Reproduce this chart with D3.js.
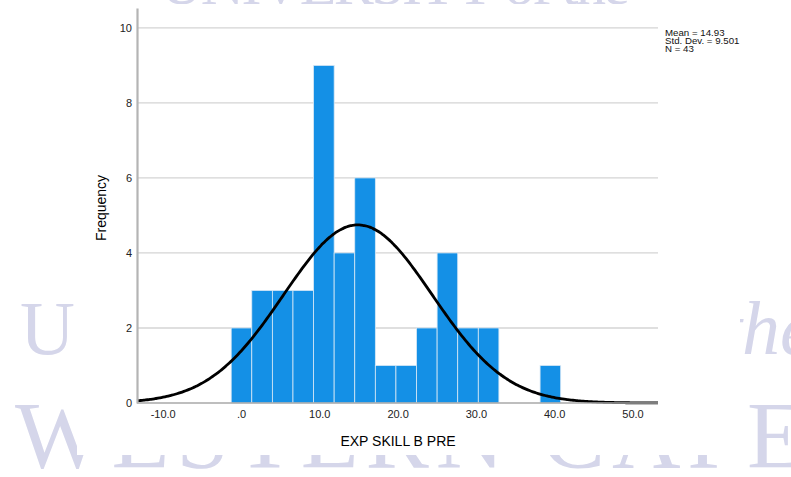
<!DOCTYPE html>
<html>
<head>
<meta charset="utf-8">
<script src="https://cdn.jsdelivr.net/npm/d3@7"></script>
<style>
  html, body { margin: 0; padding: 0; background: #ffffff; }
  svg { display: block; }
</style>
</head>
<body>
<svg id="chart" width="791" height="477"></svg>
<script>
// Histogram bins (lower/upper edges) and frequencies
const binEdges = [-1.25, 1.38, 4.01, 6.64, 9.27, 11.90, 14.53, 17.16, 19.79,
                  22.42, 25.05, 27.68, 30.31, 32.94, 35.57, 38.20, 40.83];
const binCounts = [2, 3, 3, 3, 9, 4, 6, 1, 1, 2, 4, 2, 2, 0, 0, 1];

// Axis ticks
const xTickValues = [-10, 0, 10, 20, 30, 40, 50];
const xTickLabels = ["-10.0", ".0", "10.0", "20.0", "30.0", "40.0", "50.0"];
const yTickValues = [0, 2, 4, 6, 8, 10];

// Summary statistics shown in the legend
const statMean = 14.93;
const statSD = 9.501;
const statN = 43;
const statLines = ["Mean = 14.93", "Std. Dev. = 9.501", "N = 43"];

const svg = d3.select("#chart");
const font = "'Liberation Sans', Arial, Helvetica, sans-serif";
const serif = "'Liberation Serif', 'DejaVu Serif', 'Times New Roman', serif";
const wmColor = "#d5d6ea";

// chart panel bounds on the page
const panel = { x: 77, y: 4, w: 663, h: 451 };

// ---- page background watermark, kept outside the chart panel ----
const defs = svg.append("defs");
defs.append("clipPath").attr("id", "outsidePanel")
  .append("path")
  .attr("clip-rule", "evenodd")
  .attr("d", `M0,0H791V477H0Z M${panel.x},${panel.y}V${panel.y + panel.h}H${panel.x + panel.w}V${panel.y}Z`);

const wm = svg.append("g")
  .attr("clip-path", "url(#outsidePanel)")
  .attr("fill", wmColor).attr("font-family", serif);
wm.append("text")
  .attr("x", 160).attr("y", 4)
  .attr("font-size", 60)
  .attr("textLength", 470).attr("lengthAdjust", "spacing")
  .text("UNIVERSITY of the");
wm.append("text")
  .attr("x", 20).attr("y", 354)
  .attr("font-size", 76)
  .text("U");
wm.append("text")
  .attr("x", 721).attr("y", 354)
  .attr("font-size", 76).attr("font-style", "italic")
  .text("the");
wm.append("text")
  .attr("x", 15).attr("y", 468)
  .attr("font-size", 95)
  .attr("textLength", 790).attr("lengthAdjust", "spacing")
  .text("WESTERN CAPE");

// white panel carrying the chart
svg.append("rect")
  .attr("x", panel.x).attr("y", panel.y)
  .attr("width", panel.w).attr("height", panel.h)
  .attr("fill", "#ffffff");

// ---- scales ----
const x = d3.scaleLinear().domain([-13.28, 53.26]).range([137, 658]);
const y = d3.scaleLinear().domain([0, 10.53]).range([403, 8]);

// gridlines
svg.append("g")
  .selectAll("line")
  .data(yTickValues.filter(d => d > 0))
  .join("line")
  .attr("x1", x.range()[0]).attr("x2", x.range()[1])
  .attr("y1", d => y(d)).attr("y2", d => y(d))
  .attr("stroke", "#d4d4d4").attr("stroke-width", 1.3);

// bars
const bins = binCounts.map((c, i) => ({ x0: binEdges[i], x1: binEdges[i + 1], count: c }));
svg.append("g")
  .selectAll("rect")
  .data(bins.filter(b => b.count > 0))
  .join("rect")
  .attr("x", d => x(d.x0))
  .attr("y", d => y(d.count))
  .attr("width", d => x(d.x1) - x(d.x0))
  .attr("height", d => y(0) - y(d.count))
  .attr("fill", "#1490e6")
  .attr("stroke", "#d8e8f5")
  .attr("stroke-width", 0.8);

// normal curve from the stated mean, SD and N
const binWidth = binEdges[1] - binEdges[0];
const [xa, xb] = x.domain();
const curvePts = d3.range(0, 301).map(i => {
  const v = xa + (xb - xa) * i / 300;
  const z = (v - statMean) / statSD;
  const dens = Math.exp(-0.5 * z * z) / (statSD * Math.sqrt(2 * Math.PI));
  return [v, statN * binWidth * dens];
});
svg.append("path")
  .datum(curvePts)
  .attr("d", d3.line().x(d => x(d[0])).y(d => y(d[1])).curve(d3.curveBasis))
  .attr("fill", "none")
  .attr("stroke", "#000000")
  .attr("stroke-width", 2.8);

// x axis baseline
svg.append("line")
  .attr("x1", x.range()[0]).attr("x2", x.range()[1])
  .attr("y1", y(0)).attr("y2", y(0))
  .attr("stroke", "#a8a8a8").attr("stroke-width", 1.6);

// y axis
const yAxis = svg.append("g")
  .attr("transform", `translate(${x.range()[0]},0)`)
  .call(d3.axisLeft(y).tickValues(yTickValues).tickSize(0).tickPadding(5).tickFormat(d3.format("d")));
yAxis.select(".domain").attr("stroke", "#b4b4b4").attr("stroke-width", 2.2);
yAxis.selectAll("text")
  .attr("font-family", font).attr("font-size", 11).attr("fill", "#222");

// x axis labels
const xAxis = svg.append("g")
  .attr("transform", `translate(0,${y(0)})`)
  .call(d3.axisBottom(x).tickValues(xTickValues).tickSize(0).tickPadding(7)
    .tickFormat((d, i) => xTickLabels[i]));
xAxis.select(".domain").remove();
xAxis.selectAll("text")
  .attr("font-family", font).attr("font-size", 11).attr("fill", "#222");

// axis titles
svg.append("text")
  .attr("transform", "translate(106,208) rotate(-90)")
  .attr("text-anchor", "middle")
  .attr("font-family", font).attr("font-size", 14).attr("fill", "#000")
  .text("Frequency");
svg.append("text")
  .attr("x", 398).attr("y", 446)
  .attr("text-anchor", "middle")
  .attr("font-family", font).attr("font-size", 14).attr("fill", "#000")
  .text("EXP SKILL B PRE");

// statistics block
svg.append("g")
  .selectAll("text")
  .data(statLines)
  .join("text")
  .attr("x", 665)
  .attr("y", (d, i) => 35.5 + i * 8)
  .attr("font-family", font).attr("font-size", 9.7).attr("fill", "#111")
  .text(d => d);
</script>
</body>
</html>
